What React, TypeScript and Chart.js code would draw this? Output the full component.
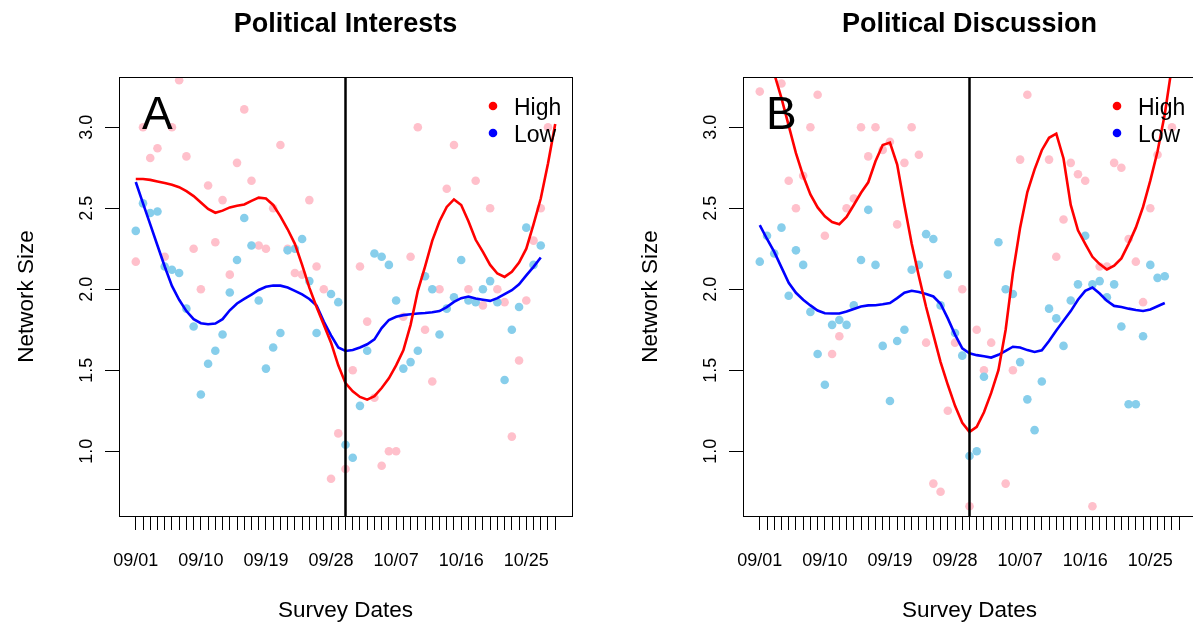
import React, { useEffect, useRef } from 'react';
import Chart from 'chart.js/auto';

// x positions: survey day index counted from 09/01
const DAYS: number[] = Array.from({ length: 59 }, (_, i) => i);
const TICK_DAYS = [0, 9, 18, 27, 36, 45, 54];
const TICK_LABELS = ['09/01', '09/10', '09/19', '09/28', '10/07', '10/16', '10/25'];
const Y_TICKS = [1.0, 1.5, 2.0, 2.5, 3.0];
const CUT_DAY = 29; // 09/30
const X_MIN = -2.32;
const X_MAX = 60.32;
const Y_MIN = 0.6;
const Y_MAX = 3.31;

// Panel A – Political Interests
const interestHigh: (number | null)[] = [
  2.17, 3.0, 2.81, 2.87, 2.2, 3.0, 3.29, 2.82, 2.25, 2.0,
  2.64, 2.29, 2.55, 2.09, 2.78, 3.11, 2.67, 2.27, 2.25, 2.5,
  2.89, 2.25, 2.1, 2.09, 2.55, 2.14, 2.0, 0.83, 1.11, 0.89,
  1.5, 2.14, 1.8, 1.33, 0.91, 1.0, 1.0, 1.83, 2.2, 3.0,
  1.75, 1.43, 2.0, 2.62, 2.89, null, 2.0, 2.67, 1.9, 2.5,
  2.0, 1.92, 1.09, 1.56, 1.93, 2.3, 2.5, 3.0, null,
];
const interestLow: (number | null)[] = [
  2.36, 2.53, 2.47, 2.48, 2.14, 2.12, 2.1, 1.88, 1.77, 1.35,
  1.54, 1.62, 1.72, 1.98, 2.18, 2.44, 2.27, 1.93, 1.51, 1.64,
  1.73, 2.24, 2.25, 2.31, 2.05, 1.73, null, 1.97, 1.92, 1.04,
  0.96, 1.28, 1.62, 2.22, 2.2, 2.15, 1.93, 1.51, 1.55, 1.62,
  2.08, 2.0, 1.72, 1.88, 1.95, 2.18, 1.93, 1.92, 2.0, 2.05,
  1.92, 1.44, 1.75, 1.89, 2.38, 2.15, 2.27, null, null,
];
const interestHighFit: number[] = [
  2.68, 2.68, 2.675, 2.665, 2.655, 2.645, 2.63, 2.605, 2.575, 2.535,
  2.495, 2.472, 2.485, 2.505, 2.515, 2.523, 2.545, 2.565, 2.56, 2.52,
  2.45, 2.37, 2.28, 2.15, 2.01, 1.89, 1.78, 1.67, 1.53, 1.42,
  1.37, 1.335, 1.318, 1.34, 1.39, 1.45, 1.53, 1.623, 1.78, 1.99,
  2.14, 2.3, 2.42, 2.508, 2.554, 2.52, 2.42, 2.305, 2.23, 2.15,
  2.097, 2.076, 2.107, 2.165, 2.25, 2.4, 2.56, 2.776, 3.02,
];
const interestLowFit: number[] = [
  2.662, 2.53, 2.4, 2.27, 2.14, 2.02, 1.935, 1.865, 1.815, 1.79,
  1.784, 1.788, 1.815, 1.87, 1.912, 1.94, 1.967, 1.995, 2.015, 2.023,
  2.022, 2.01, 1.99, 1.968, 1.94, 1.9, 1.8, 1.715, 1.64, 1.619,
  1.625, 1.64, 1.66, 1.69, 1.76, 1.81, 1.83, 1.84, 1.845, 1.85,
  1.853, 1.858, 1.865, 1.89, 1.922, 1.945, 1.955, 1.943, 1.935, 1.928,
  1.945, 1.97, 1.994, 2.03, 2.085, 2.138, 2.196,
];

// Panel B – Political Discussion
const discussHigh: (number | null)[] = [
  3.22, null, null, 3.27, 2.67, 2.5, 2.7, 3.0, 3.2, 2.33,
  1.6, 1.71, 2.5, 2.56, 3.0, 2.82, 3.0, 2.86, 2.91, 2.4,
  2.78, 3.0, 2.83, 1.67, 0.8, 0.75, 1.25, 1.67, 2.0, 0.66,
  1.75, 1.5, 1.67, null, 0.8, 1.5, 2.8, 3.2, null, null,
  2.8, 2.2, 2.43, 2.78, 2.71, 2.67, 0.66, 2.14, 2.14, 2.78,
  2.75, 2.31, 2.17, 1.92, 2.5, 2.83, null, 3.0, null,
];
const discussLow: (number | null)[] = [
  2.17, 2.33, 2.22, 2.38, 1.96, 2.24, 2.15, 1.86, 1.6, 1.41,
  1.78, 1.81, 1.78, 1.9, 2.18, 2.49, 2.15, 1.65, 1.31, 1.68,
  1.75, 2.12, 2.15, 2.34, 2.31, 1.9, 2.09, 1.73, 1.59, 0.97,
  1.0, 1.46, null, 2.29, 2.0, 1.97, 1.55, 1.32, 1.13, 1.43,
  1.88, 1.82, 1.65, 1.93, 2.03, 2.33, 2.03, 2.05, 1.95, 2.03,
  1.77, 1.29, 1.29, 1.71, 2.15, 2.07, 2.08, null, null,
];
const discussHighFit: number[] = [
  3.7, 3.5, 3.33, 3.18, 3.01, 2.84, 2.7, 2.585, 2.505, 2.45,
  2.415, 2.401, 2.446, 2.52, 2.595, 2.66, 2.79, 2.89, 2.905, 2.77,
  2.52, 2.282, 2.08, 1.89, 1.72, 1.55, 1.41, 1.28, 1.175, 1.119,
  1.15, 1.24, 1.36, 1.5, 1.75, 2.1, 2.38, 2.6, 2.74, 2.858,
  2.935, 2.96, 2.807, 2.52, 2.364, 2.28, 2.2, 2.155, 2.122, 2.145,
  2.19, 2.28, 2.38, 2.508, 2.67, 2.85, 3.08, 3.38, 3.65,
];
const discussLowFit: number[] = [
  2.395, 2.31, 2.23, 2.135, 2.04, 1.978, 1.935, 1.9, 1.868, 1.852,
  1.85, 1.85, 1.862, 1.878, 1.893, 1.9, 1.901, 1.907, 1.915, 1.945,
  1.978, 1.99, 1.983, 1.97, 1.955, 1.91, 1.82, 1.72, 1.635, 1.604,
  1.593, 1.586, 1.578, 1.595, 1.62, 1.645, 1.64, 1.624, 1.613, 1.623,
  1.68, 1.745, 1.805, 1.865, 1.935, 1.99, 2.01, 1.973, 1.928, 1.897,
  1.89, 1.88, 1.872, 1.866, 1.875, 1.895, 1.915,
];

const FONT = '"Liberation Sans", Arial, Helvetica, sans-serif';
const CW = 624;
const CH = 626;

type PanelProps = {
  left: number;
  title: string;
  letter: string;
  high: (number | null)[];
  low: (number | null)[];
  highFit: number[];
  lowFit: number[];
};

function toPoints(arr: (number | null)[]) {
  const out: { x: number; y: number }[] = [];
  arr.forEach((v, i) => {
    if (v !== null && v !== undefined) out.push({ x: DAYS[i], y: v });
  });
  return out;
}

function Panel({ left, title, letter, high, low, highFit, lowFit }: PanelProps) {
  const ref = useRef<HTMLCanvasElement | null>(null);
  useEffect(() => {
    if (!ref.current) return;
    const decor = {
      id: 'decor',
      afterDatasetsDraw(chart: any) {
        const { ctx, chartArea: a, scales } = chart;
        const xs = scales.x;
        ctx.save();
        // cut-off date line
        const vx = xs.getPixelForValue(CUT_DAY);
        ctx.strokeStyle = '#000';
        ctx.lineWidth = 2.5;
        ctx.beginPath();
        ctx.moveTo(vx, a.top);
        ctx.lineTo(vx, a.bottom);
        ctx.stroke();
        // box
        ctx.lineWidth = 1;
        ctx.strokeRect(a.left + 0.5, a.top + 0.5, a.right - a.left, a.bottom - a.top);
        ctx.restore();
      },
      afterDraw(chart: any) {
        const { ctx, chartArea: a, scales } = chart;
        const ys = scales.y;
        const cx = (a.left + a.right) / 2;
        const cy = (a.top + a.bottom) / 2;
        ctx.save();
        ctx.fillStyle = '#000';
        // title
        ctx.font = `bold 27px ${FONT}`;
        ctx.textAlign = 'center';
        ctx.textBaseline = 'alphabetic';
        ctx.fillText(title, cx, 32);
        // x axis title
        ctx.font = `22.5px ${FONT}`;
        ctx.fillText('Survey Dates', cx, 617);
        // y axis title
        ctx.save();
        ctx.translate(33, cy);
        ctx.rotate(-Math.PI / 2);
        ctx.fillText('Network Size', 0, 0);
        ctx.restore();
        // y tick labels (rotated, R style)
        ctx.font = `18px ${FONT}`;
        Y_TICKS.forEach((v) => {
          const py = ys.getPixelForValue(v);
          ctx.save();
          ctx.translate(92, py);
          ctx.rotate(-Math.PI / 2);
          ctx.fillText(v.toFixed(1), 0, 0);
          ctx.restore();
        });
        // panel letter
        ctx.font = `46px ${FONT}`;
        ctx.textAlign = 'left';
        ctx.fillText(letter, 142, 128.5);
        // legend
        const items = [
          { label: 'High', color: '#FF0000', y: 106 },
          { label: 'Low', color: '#0000FF', y: 133 },
        ];
        ctx.font = `23px ${FONT}`;
        items.forEach((it) => {
          ctx.fillStyle = it.color;
          ctx.beginPath();
          ctx.arc(493, it.y, 4.3, 0, Math.PI * 2);
          ctx.fill();
          ctx.fillStyle = '#000';
          ctx.fillText(it.label, 514, it.y + 8.5);
        });
        ctx.restore();
      },
    };

    const chart = new Chart(ref.current, {
      type: 'scatter',
      data: {
        datasets: [
          {
            type: 'line',
            label: 'High',
            data: toPoints(highFit),
            borderColor: '#FF0000',
            borderWidth: 2.6,
            pointRadius: 0,
            fill: false,
            tension: 0,
            clip: 0,
          } as any,
          {
            type: 'line',
            label: 'Low',
            data: toPoints(lowFit),
            borderColor: '#0000FF',
            borderWidth: 2.6,
            pointRadius: 0,
            fill: false,
            tension: 0,
            clip: 0,
          } as any,
          {
            type: 'scatter',
            label: 'Low points',
            data: toPoints(low),
            backgroundColor: '#87CEEB',
            borderWidth: 0,
            pointRadius: 4.3,
            clip: 0,
          } as any,
          {
            type: 'scatter',
            label: 'High points',
            data: toPoints(high),
            backgroundColor: '#FFC0CB',
            borderWidth: 0,
            pointRadius: 4.3,
            clip: 0,
          } as any,
        ],
      },
      options: {
        responsive: false,
        animation: false,
        events: [],
        layout: { padding: { left: 0, right: CW - 572, top: 77, bottom: 0 } },
        plugins: {
          legend: { display: false },
          tooltip: { enabled: false },
          title: { display: false },
        },
        scales: {
          x: {
            type: 'linear',
            min: X_MIN,
            max: X_MAX,
            afterBuildTicks: (s: any) => {
              s.ticks = DAYS.map((d) => ({ value: d }));
            },
            afterFit: (s: any) => {
              s.height = CH - 516;
            },
            border: { display: false },
            grid: {
              drawOnChartArea: false,
              drawTicks: true,
              tickLength: 14,
              color: '#000',
              lineWidth: 1,
            },
            ticks: {
              autoSkip: false,
              maxRotation: 0,
              minRotation: 0,
              padding: 20,
              color: '#000',
              font: { family: FONT, size: 18 },
              callback: (value: any) => {
                const i = TICK_DAYS.indexOf(Number(value));
                return i >= 0 ? TICK_LABELS[i] : '';
              },
            },
          },
          y: {
            type: 'linear',
            min: Y_MIN,
            max: Y_MAX,
            afterBuildTicks: (s: any) => {
              s.ticks = Y_TICKS.map((v) => ({ value: v }));
            },
            afterFit: (s: any) => {
              s.width = 119;
            },
            border: { display: false },
            grid: {
              drawOnChartArea: false,
              drawTicks: true,
              tickLength: 14,
              color: '#000',
              lineWidth: 1,
            },
            ticks: { display: false },
          },
        },
      } as any,
      plugins: [decor],
    });
    return () => chart.destroy();
  }, []);
  return (
    <canvas
      ref={ref}
      width={CW}
      height={CH}
      style={{ position: 'absolute', left, top: 0, width: CW, height: CH, display: 'block' }}
    />
  );
}

export default function App() {
  return (
    <div
      style={{
        position: 'fixed',
        left: 0,
        top: 0,
        width: 1193,
        height: 626,
        overflow: 'hidden',
        background: '#fff',
      }}
    >
      <Panel
        left={0}
        title="Political Interests"
        letter="A"
        high={interestHigh}
        low={interestLow}
        highFit={interestHighFit}
        lowFit={interestLowFit}
      />
      <Panel
        left={624}
        title="Political Discussion"
        letter="B"
        high={discussHigh}
        low={discussLow}
        highFit={discussHighFit}
        lowFit={discussLowFit}
      />
    </div>
  );
}
